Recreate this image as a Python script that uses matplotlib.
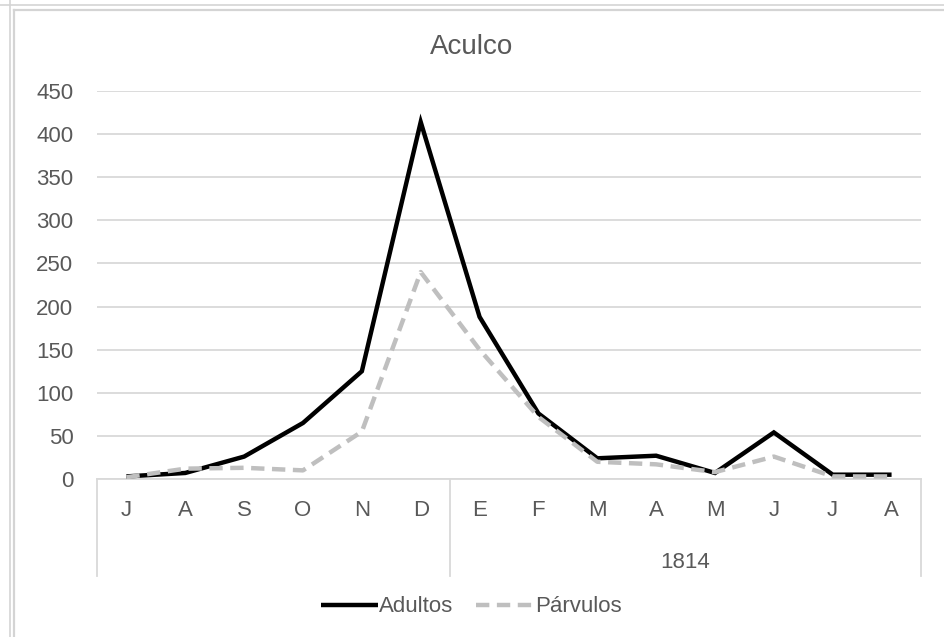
import matplotlib
matplotlib.use("Agg")
import matplotlib.pyplot as plt
from matplotlib.lines import Line2D
from matplotlib import font_manager

names = {f.name for f in font_manager.fontManager.ttflist}
fam = ['Liberation Sans Narrow', 'Liberation Sans', 'DejaVu Sans'] if 'Liberation Sans Narrow' in names else ['Liberation Sans', 'DejaVu Sans']
plt.rcParams['font.family'] = fam
narrow = 'Liberation Sans Narrow' in names

months = ["J", "A", "S", "O", "N", "D", "E", "F", "M", "A", "M", "J", "J", "A"]
year_label = "1814"
adultos = [3, 7, 26, 65, 125, 414, 188, 76, 24, 27, 7, 54, 5, 5]
parvulos = [2, 12, 13, 10, 55, 240, 150, 72, 20, 17, 8, 26, 3, 3]
title = "Aculco"

W, H = 945, 637
fig = plt.figure(figsize=(W / 100, H / 100), dpi=100)
fig.patch.set_facecolor("white")

x0, x1 = 97, 921
y0, y1 = 479, 91
ax = fig.add_axes([x0 / W, 1 - y0 / H, (x1 - x0) / W, (y0 - y1) / H])

txt = "#595959"
grid = "#D9D9D9"
fs = 17.5 if narrow else 16
tfs = 23 if narrow else 20

xs = list(range(len(months)))
l1, = ax.plot(xs, adultos, color="black", lw=3.2, solid_joinstyle="miter",
              solid_capstyle="butt", label="Adultos", zorder=3)
l2, = ax.plot(xs, parvulos, color="#BFBFBF", lw=3.2, linestyle=(0, (3, 1.7)),
              label="Párvulos", zorder=4)

ax.set_xlim(-0.5, len(months) - 0.5)
ax.set_ylim(0, 450)
ax.set_yticks(range(0, 451, 50))
ax.yaxis.grid(True, color=grid, lw=1.3)
ax.set_axisbelow(True)
for s in ["top", "right", "left"]:
    ax.spines[s].set_visible(False)
ax.spines["bottom"].set_color(grid)
ax.spines["bottom"].set_linewidth(1.3)
ax.tick_params(axis="y", length=0, labelsize=fs, labelcolor=txt, pad=17)
ax.set_xticks(xs)
ax.set_xticklabels(months)
ax.tick_params(axis="x", length=0, labelsize=fs, labelcolor=txt, pad=15)

# category group dividers and year label
for xv in [-0.5, 5.5, len(months) - 0.5]:
    ax.plot([xv, xv], [0, -112], color=grid, lw=1.3, clip_on=False,
            transform=ax.transData)
ax.text((6 + 13) / 2, -97, year_label, ha="center", va="center",
        fontsize=fs, color=txt)

fig.text(472 / W, 1 - 47 / H, title, ha="center", va="center",
         fontsize=tfs, color=txt)

fig.legend(handles=[l1, l2], loc="center", bbox_to_anchor=(471 / W, 1 - 607 / H),
           ncol=2, frameon=False, fontsize=fs, labelcolor=txt,
           handlelength=2.6, handletextpad=0.05, columnspacing=1.0)

# window frame artifacts
fc = "#D4D4D4"
fig.add_artist(Line2D([0, 1], [1 - 5 / H, 1 - 5 / H], color=fc, lw=1.2,
                      transform=fig.transFigure))
fig.add_artist(Line2D([14 / W, 1], [1 - 9.5 / H, 1 - 9.5 / H], color=fc, lw=1.6,
                      transform=fig.transFigure))
fig.add_artist(Line2D([10 / W, 10 / W], [0, 1], color=fc, lw=1.2,
                      transform=fig.transFigure))
fig.add_artist(Line2D([14 / W, 14 / W], [0, 1 - 9.5 / H], color=fc, lw=1.6,
                      transform=fig.transFigure))

fig.savefig("out.png", dpi=100, facecolor="white")
